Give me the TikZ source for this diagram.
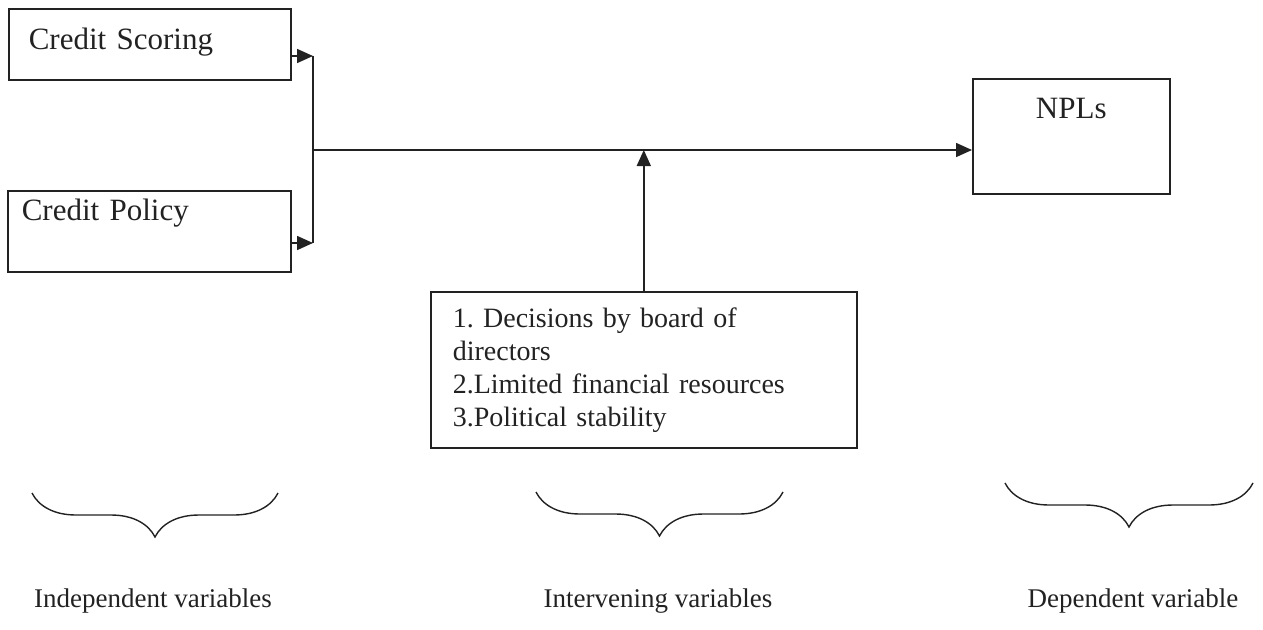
\documentclass[tikz,border=0pt]{standalone}
\usepackage{fontspec}
\setmainfont{Liberation Serif}
\usetikzlibrary{arrows.meta,decorations.pathreplacing}
\definecolor{ink}{HTML}{222222}
\frenchspacing
\tikzset{
  box/.style={draw=ink, line width=1.6pt, anchor=north west, align=left, inner ysep=0pt, text=ink,
    font=\fontsize{31}{33}\selectfont},
  conn/.style={draw=ink, line width=1.6pt},
  arr/.style={conn, -{Triangle[length=16pt,width=14pt]}},
  brc/.style={draw=ink, line width=1.4pt, decorate, decoration={brace, mirror, amplitude=44pt}},
  lbl/.style={text=ink, font=\fontsize{27}{33}\selectfont, inner sep=0pt}
}
\begin{document}
\begin{tikzpicture}[x=1pt,y=-1pt]
\useasboundingbox (0,0) rectangle (1263,629);
% boxes
\node[box, inner xsep=20pt, text width=242pt, text height=41pt, text depth=30pt] (cs) at (8,8) {Credit Scoring};
\node[box, inner xsep=14pt, text width=255pt, text height=30pt, text depth=51pt] (cp) at (7,190) {Credit Policy};
\node[box, align=center, inner xsep=0pt, text width=197pt, text height=40pt, text depth=75pt] (npl) at (972,78) {NPLs};
\node[box, font=\fontsize{28}{33}\selectfont, inner xsep=22pt, inner ysep=0pt, text width=382pt, minimum height=156pt] (ib) at (430,291)
  {1. Decisions by board of\\directors\\2.Limited financial resources\\3.Political stability};
% connectors
\coordinate (a1) at (313,56);
\coordinate (a2) at (313,243);
\coordinate (j) at (313,150);
\draw[arr] (cs.east |- a1) -- (a1);
\draw[arr] (cp.east |- a2) -- (a2);
\draw[conn] (a1) -- (a2);
\draw[arr] (j) -- (npl.west |- j);
\draw[arr] (ib.north) -- (ib.north |- j);
% braces
\draw[brc] (32,493) -- (278,493);
\draw[brc] (536,492) -- (783,492);
\draw[brc] (1005,483) -- (1253,483);
% labels
\node[lbl] (l1) at (153,601) {Independent variables};
\node[lbl] (l2) at (658,601) {Intervening variables};
\node[lbl] (l3) at (1133,601) {Dependent variable};
\end{tikzpicture}
\end{document}
